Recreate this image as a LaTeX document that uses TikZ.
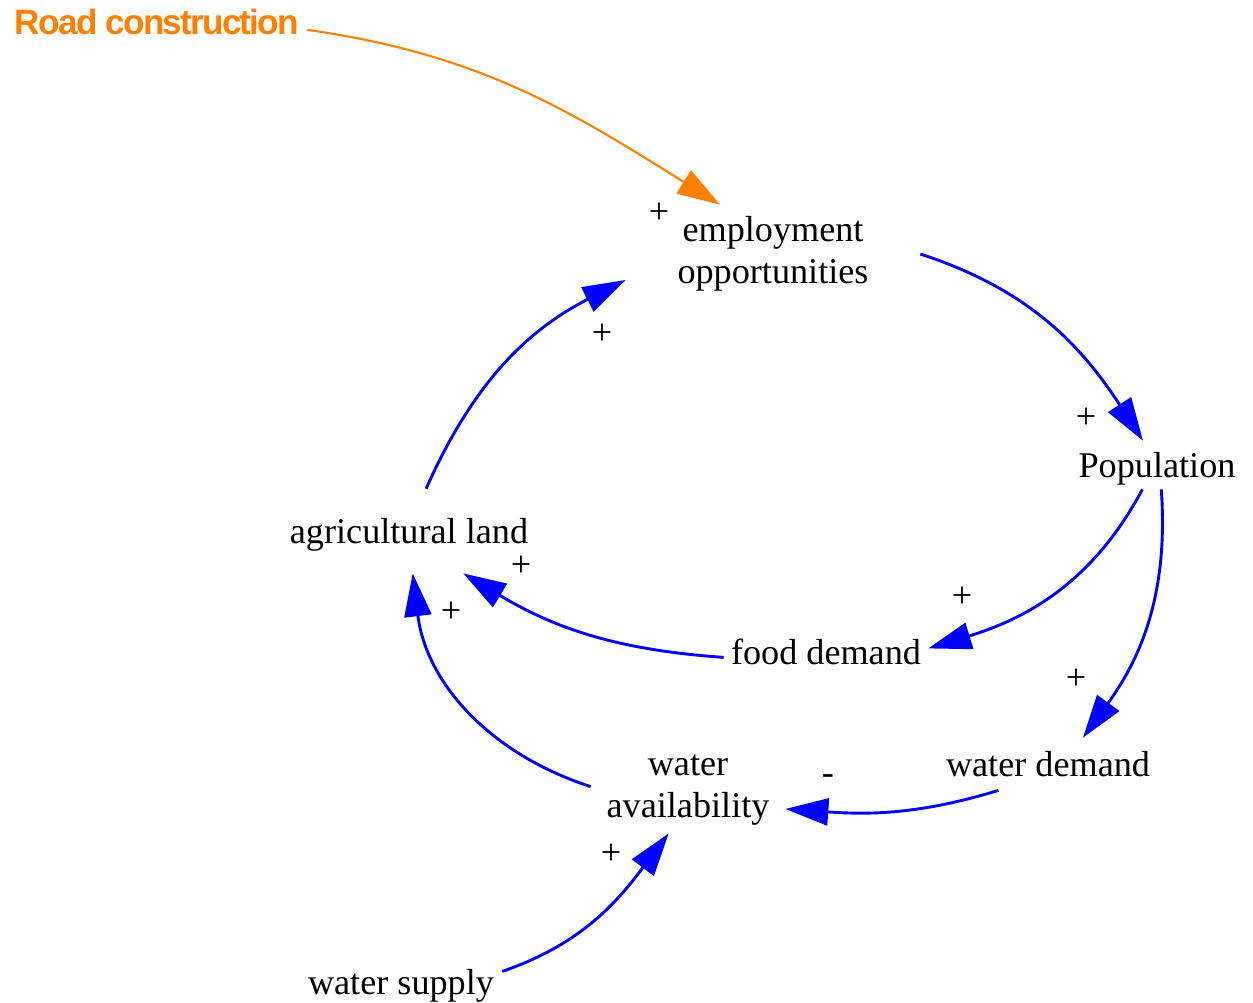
\documentclass[tikz,border=0pt]{standalone}
\usepackage{fontspec}
\setmainfont{Liberation Serif}
\newfontfamily\roadfont[LetterSpace=-5]{Liberation Sans}
\usetikzlibrary{arrows.meta}

\definecolor{linkblue}{RGB}{0,0,255}
\definecolor{roadorange}{RGB}{255,128,0}

\tikzset{
    var/.style={inner sep=0pt, align=center, font=\fontsize{20.6pt}{24pt}\selectfont},
    varline/.style={inner sep=0pt, text height=18.5pt, text depth=4.5pt,
        font=\fontsize{20.6pt}{24pt}\selectfont},
    pol/.style={inner sep=0pt, font=\fontsize{20.6pt}{24pt}\selectfont},
    link/.style={draw=linkblue, line width=1.65pt, -{Triangle[length=0.86cm,width=0.54cm]}},
}

\begin{document}
\begin{tikzpicture}[x=0.02cm, y=-0.02cm]
    \useasboundingbox (0,0) rectangle (1253,1002);
    \node[inner sep=0pt, text=roadorange, font=\roadfont\bfseries\fontsize{20pt}{24pt}\selectfont,
        minimum width=6cm, minimum height=0.6cm] (road) at (157,22) {Road construction};
    \node[var, minimum width=5.88cm, minimum height=1.96cm] (emp) at (773,254) {employment\\opportunities};
    \node[varline, minimum width=4cm, minimum height=0.96cm] (pop) at (1157,465) {Population};
    \node[varline, minimum width=5cm, minimum height=1.68cm] (agri) at (409,531) {agricultural land};
    \node[varline, minimum width=4.08cm, minimum height=0.8cm] (food) at (826,652) {food demand};
    \node[varline, minimum width=4.04cm, minimum height=1.04cm] (wdem) at (1048,764) {water demand};
    \node[var, minimum width=3.88cm, minimum height=1.72cm] (wav) at (688,790) {water\\availability};
    \node[varline, minimum width=4.04cm, minimum height=0.8cm] (wsup) at (401,982) {water supply};

    \node[pol] (s-road) at (659,213) {+};
    \node[pol] (s-agri) at (602,334) {+};
    \node[pol] (s-emp) at (1086,418) {+};
    \node[pol] (s-popfood) at (962,597) {+};
    \node[pol] (s-popwdem) at (1076,679) {+};
    \node[pol] (s-food) at (521,566) {+};
    \node[pol] (s-wav) at (451,612) {+};
    \node[pol] (s-wdem) at (828,780) {-};
    \node[pol] (s-wsup) at (611,854) {+};

    \draw[link, draw=roadorange, line width=1.2pt] (road.-3.8) to[out=-8, in=148] (emp.137.2);
    \begin{scope}[link]
        \draw (emp.-0.8) to[out=-18, in=123] (pop.120);
        \draw (pop.239.7) to[out=242, in=17] (food.2.8);
        \draw (pop.-80.5) to[out=-86, in=54] (wdem.37.4);
        \draw (food.183.4) to[out=176, in=-31] (agri.-38.4);
        \draw (wdem.208.4) to[out=197, in=-4] (wav.-11.7);
        \draw (wav.178.2) to[out=162, in=-83] (agri.-85.9);
        \draw (agri.68) to[out=66, in=207] (emp.190.5);
        \draw (wsup.6.8) to[out=19, in=233] (wav.246.2);
    \end{scope}
\end{tikzpicture}
\end{document}
